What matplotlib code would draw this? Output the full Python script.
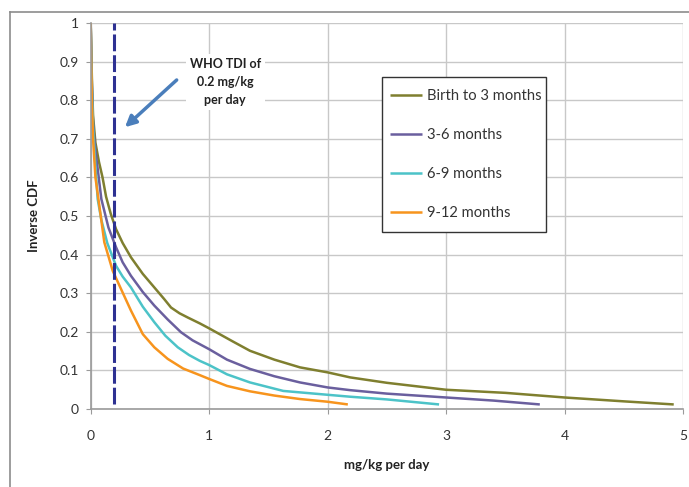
import numpy as np
import matplotlib
matplotlib.use('Agg')
import matplotlib.pyplot as plt
from matplotlib.lines import Line2D
from matplotlib.patches import Rectangle

plt.rcParams['font.family'] = ['Lato', 'DejaVu Sans']

# Данные
labels = ['Birth to 3 months', '3-6 months', '6-9 months', '9-12 months']
colors = ['#7f7f2f', '#6a5f9e', '#4cc3c8', '#f7941d']

x_b3 = [0.0, 0.01, 0.02, 0.04, 0.07, 0.1, 0.13, 0.17, 0.214, 0.27, 0.34, 0.44,
        0.537, 0.62, 0.678, 0.75, 0.82, 0.92, 1.0, 1.1, 1.2, 1.344, 1.55, 1.766,
        2.0, 2.19, 2.5, 3.0, 3.5, 4.0, 4.5, 4.92]
y_b3 = [1.0, 0.86, 0.76, 0.69, 0.64, 0.60, 0.55, 0.505, 0.466, 0.43, 0.393, 0.35,
        0.315, 0.285, 0.263, 0.248, 0.237, 0.222, 0.209, 0.192, 0.175, 0.151, 0.128, 0.108,
        0.095, 0.082, 0.068, 0.05, 0.042, 0.03, 0.02, 0.012]

x_36 = [0.0, 0.01, 0.02, 0.04, 0.06, 0.09, 0.15, 0.214, 0.27, 0.34, 0.44, 0.537,
        0.65, 0.762, 0.86, 1.0, 1.15, 1.344, 1.55, 1.766, 2.0, 2.19, 2.5, 3.0, 3.4, 3.79]
y_36 = [1.0, 0.84, 0.74, 0.67, 0.62, 0.544, 0.47, 0.419, 0.38, 0.345, 0.303, 0.268,
        0.232, 0.199, 0.178, 0.155, 0.128, 0.104, 0.085, 0.069, 0.056, 0.049, 0.04, 0.03,
        0.022, 0.012]

x_69 = [0.0, 0.01, 0.02, 0.04, 0.059, 0.09, 0.14, 0.214, 0.27, 0.34, 0.44, 0.537,
        0.63, 0.735, 0.83, 0.92, 1.0, 1.15, 1.344, 1.625, 2.0, 2.19, 2.5, 2.94]
y_69 = [1.0, 0.83, 0.73, 0.63, 0.544, 0.49, 0.43, 0.371, 0.343, 0.315, 0.265, 0.225,
        0.19, 0.16, 0.14, 0.125, 0.114, 0.09, 0.069, 0.047, 0.037, 0.032, 0.025, 0.012]

x_912 = [0.0, 0.005, 0.01, 0.02, 0.04, 0.073, 0.115, 0.186, 0.256, 0.34, 0.44, 0.537,
         0.65, 0.78, 0.92, 1.0, 1.15, 1.344, 1.55, 1.766, 2.0, 2.17]
y_912 = [1.0, 0.9, 0.8, 0.70, 0.60, 0.527, 0.432, 0.358, 0.311, 0.255, 0.194, 0.16,
         0.13, 0.105, 0.088, 0.078, 0.06, 0.046, 0.035, 0.026, 0.019, 0.012]

series = [(x_b3, y_b3), (x_36, y_36), (x_69, y_69), (x_912, y_912)]

who_tdi = 0.2

fig = plt.figure(figsize=(6.89, 4.87), dpi=100)
ax = fig.add_axes([0.1316, 0.160, 0.860, 0.793])

# внешняя рамка
fig.add_artist(Line2D([0.0138, 1.0], [0.976, 0.976], transform=fig.transFigure,
                      color='#8c8c8c', lw=1.2))
fig.add_artist(Line2D([0.0138, 0.0138], [0.0, 0.976], transform=fig.transFigure,
                      color='#8c8c8c', lw=1.2))

for (xs, ys), lab, c in zip(series, labels, colors):
    ax.plot(xs, ys, color=c, lw=1.8, label=lab, solid_capstyle='butt')

ax.plot([who_tdi, who_tdi], [0.013, 1.0], color='#2e3192', lw=2.2,
        dashes=(5.5, 1.3), zorder=3)

ax.set_xlim(0, 5)
ax.set_ylim(0, 1)
ax.set_xticks(np.arange(0, 6, 1))
ax.set_yticks(np.round(np.arange(0, 1.01, 0.1), 1))
ax.set_yticklabels(['0', '0.1', '0.2', '0.3', '0.4', '0.5', '0.6', '0.7', '0.8', '0.9', '1'])
ax.grid(True, color='#c8c8c8', lw=1)
ax.set_axisbelow(True)
for s in ['top', 'right']:
    ax.spines[s].set_visible(False)
for s in ['left', 'bottom']:
    ax.spines[s].set_color('#9a9a9a')
    ax.spines[s].set_linewidth(1.2)
ax.tick_params(axis='both', colors='#9a9a9a', length=3.5, labelcolor='#333333',
               labelsize=10)
ax.tick_params(axis='x', pad=11.5)
ax.tick_params(axis='y', pad=5)

ax.set_xlabel('mg/kg per day', fontsize=9.5, fontweight='bold', color='#222222',
              labelpad=12.5)
ax.set_ylabel('Inverse CDF', fontsize=9.5, fontweight='bold', color='#222222',
              labelpad=14)

ax.text(1.136, 0.847, 'WHO TDI of\n0.2 mg/kg\nper day', ha='center', va='center',
        fontsize=9, fontweight='bold', color='#222222', linespacing=1.6,
        bbox=dict(facecolor='white', edgecolor='none', pad=3))
ax.annotate('', xy=(0.272, 0.725), xytext=(0.743, 0.857),
            arrowprops=dict(arrowstyle='-|>', color='#4a7ebb', lw=2.5,
                            mutation_scale=16))

# рамка легенды
ax.add_patch(Rectangle((0.4916, 0.4586), 0.2767, 0.4009, transform=ax.transAxes,
                       facecolor='white', edgecolor='#333333', lw=1, zorder=4))
leg = ax.legend(loc='center left', bbox_to_anchor=(0.505, 0.659), frameon=False,
                fontsize=10.6, labelspacing=1.68, handlelength=2.2,
                handletextpad=0.3, borderpad=0, borderaxespad=0)
leg.set_zorder(5)
for t in leg.get_texts():
    t.set_color('#333333')

fig.savefig('out.png', dpi=100)
